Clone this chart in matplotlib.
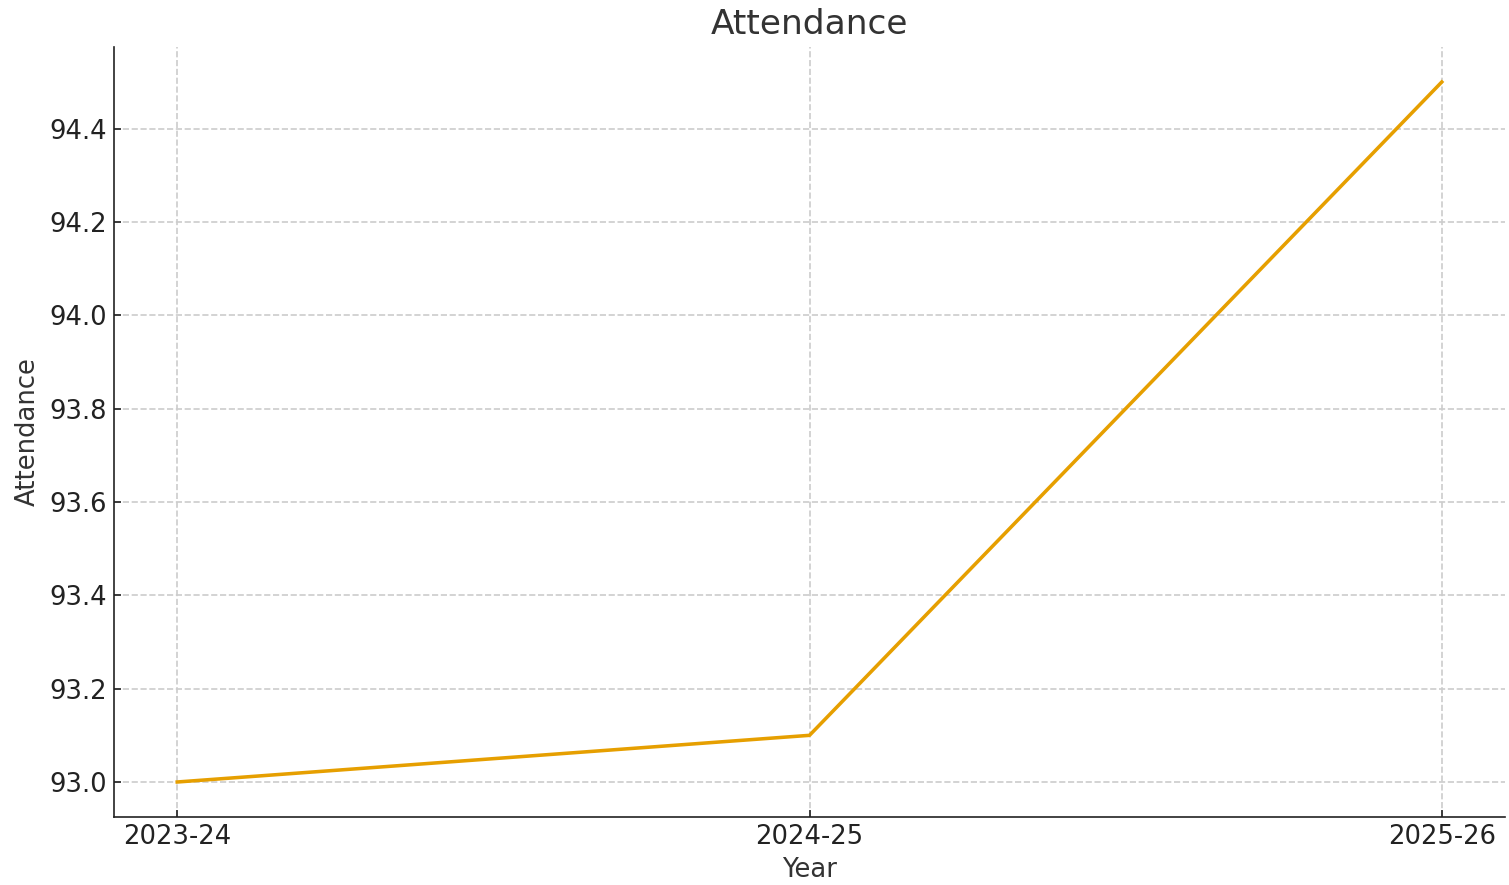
import matplotlib
matplotlib.use("Agg")
import matplotlib.pyplot as plt

years = ["2023-24", "2024-25", "2025-26"]
attendance = [93.0, 93.1, 94.5]

fig, ax = plt.subplots(figsize=(1509 / 150, 885 / 150), dpi=150)
fig.subplots_adjust(left=114 / 1509, right=1505 / 1509, top=1 - 47 / 885, bottom=1 - 817 / 885)

ax.plot(years, attendance, color="#E69F00", linewidth=1.7)

ax.set_title("Attendance", fontsize=16.5, color="#333333")
ax.set_xlabel("Year", fontsize=12.4, color="#333333", labelpad=3)
ax.set_ylabel("Attendance", fontsize=12.4, color="#333333")
ax.tick_params(labelsize=12.4, colors="#222222", direction="in")
ax.grid(True, linestyle="--", color="#cccccc", linewidth=0.8)
ax.spines["top"].set_visible(False)
ax.spines["right"].set_visible(False)
ax.spines["left"].set_color("#222222")
ax.spines["bottom"].set_color("#222222")

fig.savefig("out.png", dpi=150)
